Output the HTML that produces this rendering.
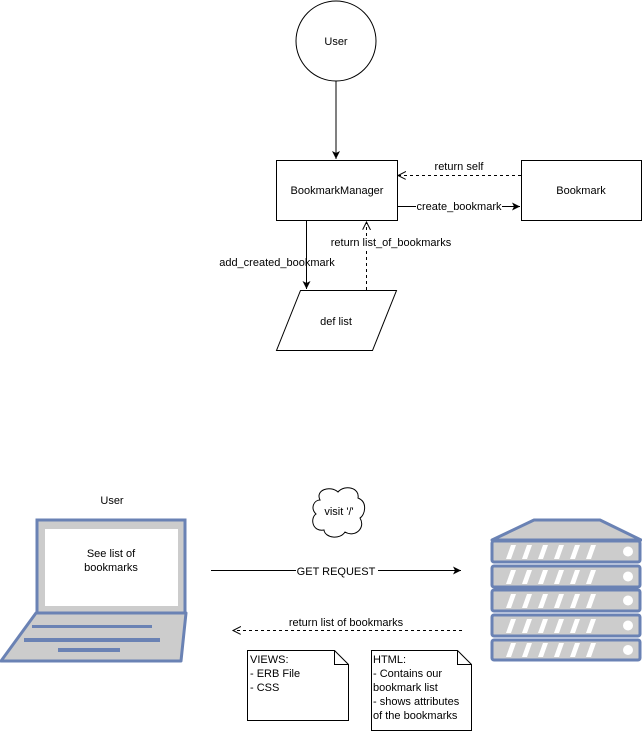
<!DOCTYPE html>
<html><head><style>
html,body{margin:0;padding:0;background:#fff;}
svg text{font-family:"Liberation Sans",sans-serif;font-size:11px;fill:#000;}
</style></head><body>
<svg width="642" height="731" viewBox="0 0 642 731" xmlns="http://www.w3.org/2000/svg">
<defs>
<marker id="a" markerWidth="10" markerHeight="10" refX="8" refY="4" orient="auto" markerUnits="userSpaceOnUse"><path d="M0,0 L8,4 L0,8 L2,4 Z" fill="#000"/></marker>
<marker id="o" markerWidth="10" markerHeight="10" refX="8" refY="4" orient="auto" markerUnits="userSpaceOnUse"><path d="M0,0 L8,4 L0,8" fill="none" stroke="#000"/></marker>
</defs>
<circle cx="336" cy="41" r="40" fill="#fff" stroke="#000"/>
<text x="336" y="45" text-anchor="middle">User</text>
<line x1="336" y1="81" x2="336" y2="159" stroke="#000" marker-end="url(#a)"/>
<rect x="276.5" y="160.5" width="121" height="60" fill="#fff" stroke="#000"/>
<text x="337" y="194" text-anchor="middle">BookmarkManager</text>
<rect x="521.5" y="160.5" width="120" height="60" fill="#fff" stroke="#000"/>
<text x="581" y="194" text-anchor="middle">Bookmark</text>
<line x1="521" y1="175.5" x2="398" y2="175.5" stroke="#000" stroke-dasharray="3,3" marker-end="url(#o)"/>
<text x="459" y="170" text-anchor="middle">return self</text>
<line x1="397" y1="206.5" x2="520" y2="206.5" stroke="#000" marker-end="url(#a)"/>
<rect x="416" y="200" width="86" height="12" fill="#fff"/>
<text x="459" y="210" text-anchor="middle">create_bookmark</text>
<line x1="306.5" y1="220" x2="306.5" y2="289" stroke="#000" marker-end="url(#a)"/>
<text x="277" y="266" text-anchor="middle">add_created_bookmark</text>
<line x1="366.5" y1="290" x2="366.5" y2="222" stroke="#000" stroke-dasharray="3,3" marker-end="url(#o)"/>
<rect x="330" y="236" width="122" height="13" fill="#fff"/>
<text x="391" y="246" text-anchor="middle">return list_of_bookmarks</text>
<polygon points="300.5,290.5 396.5,290.5 372.5,350.5 276.5,350.5" fill="#fff" stroke="#000"/>
<text x="336" y="325" text-anchor="middle">def list</text>

<text x="112" y="504" text-anchor="middle">User</text>
<path d="M320,500 C315,490 330,485 338,492 C345,484 360,488 358,498 C368,502 365,515 360,518 C366,528 355,538 345,532 C340,540 325,538 324,530 C312,532 310,518 316,514 C310,508 314,500 320,500 Z" fill="#fff" stroke="#000"/>
<text x="339" y="515" text-anchor="middle">visit '/'</text>

<polygon points="36,613 186,613 181,661 1,661" fill="#ccc" stroke="#6a82b4" stroke-width="3" stroke-linejoin="round"/>
<rect x="37" y="520" width="148" height="93" fill="#ccc" stroke="#6a82b4" stroke-width="3"/>
<rect x="45" y="529" width="133" height="77" fill="#fff"/>
<rect x="32" y="625" width="120" height="3" fill="#6a82b4"/>
<rect x="24" y="638" width="136" height="4" fill="#6a82b4"/>
<rect x="58" y="648" width="62" height="4" fill="#6a82b4"/>
<text x="111" y="557" text-anchor="middle" font-size="12">See list of</text>
<text x="111" y="571" text-anchor="middle" font-size="12">bookmarks</text>

<g stroke="#6a82b4" stroke-width="3">
<polygon points="534,520 600,520 641,540 492,540" fill="#ccc" stroke-linejoin="round"/>
<rect x="492" y="541" width="148" height="21" rx="2" fill="#ccc"/>
<rect x="492" y="566" width="148" height="21" rx="2" fill="#ccc"/>
<rect x="492" y="590" width="148" height="21" rx="2" fill="#ccc"/>
<rect x="492" y="615" width="148" height="21" rx="2" fill="#ccc"/>
<rect x="492" y="640" width="148" height="20" rx="2" fill="#ccc"/>
</g>
<g fill="#fff">
<path id="st" d="M506,559 L511,545 L516,545 L511,559 Z M522,559 L527,545 L532,545 L527,559 Z M538,559 L543,545 L548,545 L543,559 Z M554,559 L559,545 L564,545 L559,559 Z M570,559 L575,545 L580,545 L575,559 Z M586,559 L591,545 L596,545 L591,559 Z"/>
<use href="#st" y="25"/><use href="#st" y="49"/><use href="#st" y="74"/><use href="#st" y="98"/>
<ellipse cx="628" cy="551.5" rx="5" ry="5"/><ellipse cx="628" cy="576.5" rx="5" ry="5"/><ellipse cx="628" cy="600.5" rx="5" ry="5"/><ellipse cx="628" cy="625.5" rx="5" ry="5"/><ellipse cx="628" cy="650" rx="5" ry="5"/>
</g>

<line x1="211" y1="570.5" x2="461" y2="570.5" stroke="#000" marker-end="url(#a)"/>
<rect x="296" y="564" width="82" height="12" fill="#fff"/>
<text x="336" y="575" text-anchor="middle">GET REQUEST</text>
<line x1="462" y1="630.5" x2="233" y2="630.5" stroke="#000" stroke-dasharray="3,3" marker-end="url(#o)"/>
<text x="346" y="626" text-anchor="middle">return list of bookmarks</text>

<path d="M247.5,650.5 L334.5,650.5 L348.5,664.5 L348.5,720.5 L247.5,720.5 Z M334.5,650.5 L334.5,664.5 L348.5,664.5" fill="#fff" stroke="#000"/>
<text x="250" y="663" font-size="12">VIEWS:</text>
<text x="250" y="677" font-size="12">- ERB File</text>
<text x="250" y="691" font-size="12">- CSS</text>
<path d="M371.5,650.5 L457.5,650.5 L471.5,664.5 L471.5,730.5 L371.5,730.5 Z M457.5,650.5 L457.5,664.5 L471.5,664.5" fill="#fff" stroke="#000"/>
<text x="373" y="663" font-size="12">HTML:</text>
<text x="373" y="677" font-size="12">- Contains our</text>
<text x="373" y="691" font-size="12">bookmark list</text>
<text x="373" y="705" font-size="12">- shows attributes</text>
<text x="373" y="719" font-size="12">of the bookmarks</text>
</svg>
</body></html>
